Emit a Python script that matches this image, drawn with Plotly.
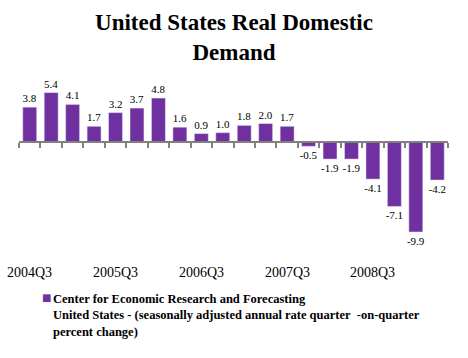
import plotly.graph_objects as go

quarters = ["2004Q3", "2004Q4", "2005Q1", "2005Q2", "2005Q3", "2005Q4", "2006Q1", "2006Q2",
            "2006Q3", "2006Q4", "2007Q1", "2007Q2", "2007Q3", "2007Q4", "2008Q1", "2008Q2",
            "2008Q3", "2008Q4", "2009Q1", "2009Q2"]
values = [3.8, 5.4, 4.1, 1.7, 3.2, 3.7, 4.8, 1.6, 0.9, 1.0, 1.8, 2.0, 1.7,
          -0.5, -1.9, -1.9, -4.1, -7.1, -9.9, -4.2]
tick_labels = ["2004Q3", "2005Q3", "2006Q3", "2007Q3", "2008Q3"]
series_name = ("Center for Economic Research and Forecasting<br>"
               "United States - (seasonally adjusted annual rate quarter\u00a0 -on-quarter<br>"
               "percent change)")

W, H = 468, 358
ML, MR, MT, MB = 19, 20, 78, 116
PW, PH = W - ML - MR, H - MT - MB
ymin, ymax = -11, 7
purple = "#7030A0"
serif = "Liberation Serif"

def px_x(x):
    return (x - ML) / PW

def px_y(y):
    return (H - MB - y) / PH

fig = go.Figure()
fig.add_trace(go.Bar(
    x=quarters, y=values, marker_color=purple, width=0.65,
    text=[f"{v:.1f}" for v in values], textposition="outside",
    constraintext="none", cliponaxis=False,
    textfont=dict(family=serif, size=11, color="black"),
    name=series_name, showlegend=False, hoverinfo="x+y",
))

annotations = []
for lab in tick_labels:
    annotations.append(dict(x=lab, y=px_y(272), xref="x", yref="paper", text=lab,
                            showarrow=False, xanchor="center", yanchor="middle",
                            font=dict(family=serif, size=14, color="black")))
annotations.append(dict(x=px_x(46), y=px_y(297), xref="paper", yref="paper", text="■",
                        showarrow=False, xanchor="center", yanchor="middle",
                        font=dict(family="DejaVu Sans", size=10, color=purple)))
annotations.append(dict(x=px_x(51), y=px_y(290), xref="paper", yref="paper", text=series_name,
                        showarrow=False, xanchor="left", yanchor="top", align="left",
                        font=dict(family=serif, size=12.5, color="black", weight="bold")))

fig.update_layout(
    width=W, height=H,
    margin=dict(l=ML, r=MR, t=MT, b=MB),
    paper_bgcolor="white", plot_bgcolor="white",
    title=dict(text="<b>United States Real Domestic<br>Demand</b>", x=0.5, xanchor="center",
               y=1 - 30 / H, yanchor="middle", yref="container",
               font=dict(family=serif, size=23, color="black")),
    xaxis=dict(type="category", range=[-0.5, 19.5], anchor="free",
               position=(0 - ymin) / (ymax - ymin),
               showline=True, linecolor="#808080", linewidth=2,
               ticks="outside", tickson="boundaries", ticklen=5, tickwidth=2, tickcolor="#808080",
               showticklabels=False, showgrid=False, zeroline=False, fixedrange=True),
    yaxis=dict(range=[ymin, ymax], visible=False, fixedrange=True),
    annotations=annotations,
    bargap=0.35,
)

fig.write_html("out.html", config={"displayModeBar": False},
               post_script="document.body.style.margin='0';document.body.style.overflow='hidden';")
